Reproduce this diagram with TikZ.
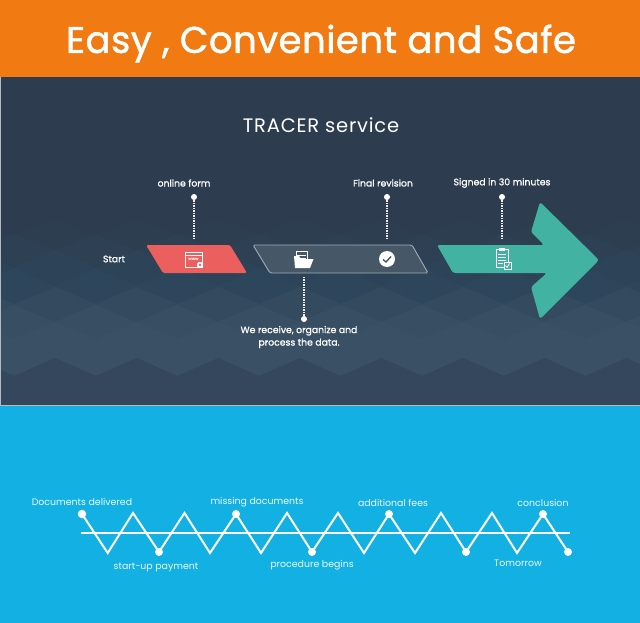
\documentclass[tikz,border=0pt]{standalone}
\usepackage{fontspec}
\setmainfont{Poppins}
\newfontfamily\titlefont[LetterSpace=1.4,FakeBold=1.4]{Poppins}
\newfontfamily\headfont[LetterSpace=4]{Poppins}
\newfontfamily\labelfont[FakeBold=1.2]{Poppins}
\usetikzlibrary{calc}
\definecolor{orangebar}{HTML}{F27A12}
\definecolor{skyblue}{HTML}{12B0E3}
\definecolor{paneltop}{HTML}{2D3C4F}
\definecolor{panelmid}{HTML}{2F4A60}
\definecolor{panelbot}{HTML}{3E5368}
\definecolor{panellow}{HTML}{35475C}
\definecolor{redbox}{HTML}{EC5F5F}
\definecolor{greybox}{HTML}{465868}
\definecolor{greenbox}{HTML}{42B3A3}
\tikzset{
  x=1pt,y=-1pt,
  dot/.style={circle,fill=white,inner sep=0pt,minimum size=#1},
  dot/.default=6pt,
  stem/.style={white!85!gray,line width=1.3pt,dash pattern=on 1.4pt off 1.1pt},
  toptext/.style={text=white,font=\fontsize{9.3}{12}\selectfont\labelfont,align=center,inner sep=0pt},
  bluetext/.style={text=white!92!skyblue,font=\fontsize{9.4}{12}\selectfont,inner sep=0pt},
  icon/.style={white,line width=1pt},
  zigline/.style={white,line width=2pt,line join=miter},
}
\newcommand{\bandfill}[5]{% ytop, xoffset, amp, colour, opacity
  \fill[#4,fill opacity=#5] (0,405) -- (0,#1)
    \foreach \k in {-1,...,8} { -- ({#2+81.6*\k},#1) -- ({#2+81.6*\k+40.8},{#1+#3}) } -- (640,#1) -- (640,405) -- cycle;}
\begin{document}
\begin{tikzpicture}
\useasboundingbox (0,0) rectangle (640,623);
\fill[skyblue] (0,0) rectangle (640,623);
\fill[orangebar] (0,0) rectangle (640,77);
\fill[paneltop] (0,77) rectangle (640,405);
\begin{scope}
\clip (0,77) rectangle (640,405);
\bandfill{218}{-26.6}{17}{panelmid}{0.15}
\bandfill{234}{14}{17}{panelmid}{0.20}
\bandfill{250}{-26.6}{18}{panelmid}{0.30}
\bandfill{268}{14}{18}{panelmid}{0.55}
\bandfill{287}{-26.6}{17}{panelbot}{0.35}
\bandfill{305}{14}{17}{panelbot}{0.45}
\bandfill{322}{-26.6}{17}{panelbot}{0.50}
\bandfill{358}{55}{18}{panellow}{1}
\end{scope}
\draw[white!60!panelbot,line width=0.8pt] (0.4,77) -- (0.4,405) -- (640,405);

\node[text=white,font=\fontsize{37}{42}\selectfont\titlefont,inner sep=0pt] (title) at (321,43.5) {Easy , Convenient and Safe};
\node[text=white,font=\fontsize{19.5}{24}\selectfont\headfont,inner sep=0pt] (service) at (321,125) {TRACER service};

% process shapes
\fill[redbox,rounded corners=1.5pt] (146,245) -- (230,245) -- (247,273) -- (163,273) -- cycle;
\draw[fill=greybox,draw=white!50!greybox,line width=0.9pt,rounded corners=1.5pt] (253,245) -- (412,245) -- (428,273) -- (270,273) -- cycle;
\fill[greenbox,rounded corners=2.5pt] (437,245) -- (544,245) -- (531,232) -- (540,202) -- (599,260) -- (540,319) -- (531,287) -- (547,273) -- (453,273) -- cycle;

% labels and stems
\node[toptext] (form) at (184,183) {online form};
\node[toptext] (final) at (383,183) {Final revision};
\node[toptext] (signed) at (502,183) {Signed in 30 minutes};
\node[toptext] (start) at (114,259) {Start};
\node[toptext] (receive) at (299,337) {We receive, organize and\\[0.5pt]process the data.};
\node[dot] (d1) at (194,197) {};
\node[dot] (d2) at (387,197) {};
\node[dot] (d3) at (502,197) {};
\node[dot] (d4) at (304,319) {};
\coordinate (e1) at (194,240);
\coordinate (e2) at (387,240);
\coordinate (e3) at (502,240);
\coordinate (e4) at (304,277);
\draw[stem] (d1) -- (e1);
\draw[stem] (d2) -- (e2);
\draw[stem] (d3) -- (e3);
\draw[stem] (d4) -- (e4);

% window icon
\draw[icon] (185.5,252) rectangle (202,267);
\draw[icon,line width=.7pt] (185.5,255) -- (202,255);
\node[text=white,font=\fontsize{4}{4}\selectfont\bfseries,inner sep=0pt] (www) at (193.5,259.5) {www};
\fill[white] (200,265) circle (3.2);
\fill[redbox] (200,265) circle (1.4);
% folder icon
\draw[icon,fill=greybox] (296,251) rectangle (307,266);
\draw[white,line width=.6pt] (297,255) -- (306,255) (297,258) -- (306,258);
\fill[white] (294,256) -- (295,268) -- (310,268) -- (313.5,259) -- (301,259) -- (299,256) -- cycle;
% check icon
\fill[white] (387,259) circle (8);
\draw[greybox,line width=1.4pt] (383,259.5) -- (386,262) -- (391,256.5);
% clipboard icon
\draw[icon,fill=greenbox] (496,249.5) rectangle (508,267);
\fill[white] (499,248) rectangle (505,250.5);
\draw[white,line width=.7pt] (498,254) -- (506,254) (498,257) -- (506,257) (498,260) -- (506,260) (498,263) -- (503,263);
\draw[white,fill=greenbox,line width=1pt] (504,262) rectangle (511,269);
\draw[white,line width=.7pt] (505.5,265.5) -- (507,267.5) -- (509.5,263.5);

% lower zigzag
\node[dot=8.5pt] (a) at (82,514) {};
\node[dot=8pt] (b) at (159,552) {};
\node[dot=8pt] (c) at (236,514) {};
\node[dot=8pt] (f) at (312,552) {};
\node[dot=8pt] (g) at (389,514) {};
\node[dot=8pt] (h) at (466,552) {};
\node[dot=8pt] (i) at (543,514) {};
\node[dot=8pt] (j) at (568,552) {};
\coordinate (ls) at (81,533);
\coordinate (le) at (570,533);
\draw[zigline] (ls) -- (le);
\draw[zigline] (a.center) -- (107.7,553) -- (133,513) -- (b.center) -- (184.5,513) -- (210,553) -- (c.center) -- (261,553) -- (287,513) -- (f.center) -- (338,513) -- (364,553) -- (g.center) -- (415,553) -- (441,513) -- (h.center) -- (492,513) -- (517,553) -- (i.center) -- (j.center);
\node[bluetext] (l1) at (82,502) {Documents delivered};
\node[bluetext] (l2) at (156,567) {start-up payment};
\node[bluetext] (l3) at (257,502) {missing documents};
\node[bluetext] (l4) at (312,565) {procedure begins};
\node[bluetext] (l5) at (393,503) {additional fees};
\node[bluetext] (l6) at (518,563) {Tomorrow};
\node[bluetext] (l7) at (543,503) {conclusion};
\end{tikzpicture}
\end{document}
